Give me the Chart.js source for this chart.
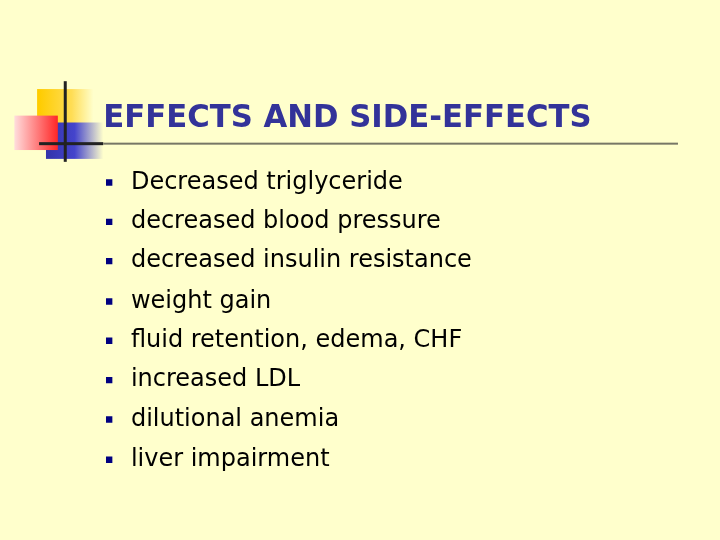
<!DOCTYPE html><html><head><script src="https://cdn.jsdelivr.net/npm/chart.js"></script>
<style>html,body{margin:0;background:#ffffcc}#w{width:720px;height:540px}</style></head><body><div id="w"><canvas id="c"></canvas></div>
<script>
const title = "EFFECTS AND SIDE-EFFECTS";
const items = ["Decreased triglyceride","decreased blood pressure","decreased insulin resistance","weight gain","fluid retention, edema, CHF","increased LDL","dilutional anemia","liver impairment"];
const rowY = [181,221,261,302,342,382,422,463];
const bulletX = [106,106,106,106,106,106,106,106];
const deco = {id:'deco',beforeDatasetsDraw(ch){
 const c=ch.ctx,xs=ch.scales.x,ys=ch.scales.y;const X=v=>xs.getPixelForValue(v),Y=v=>ys.getPixelForValue(v);
 c.save();
 let g=c.createLinearGradient(X(35),0,X(90),0);g.addColorStop(0,'#ffcc00');g.addColorStop(0.6,'#ffdd55');g.addColorStop(1,'#ffffcc');
 c.fillStyle=g;c.fillRect(X(33),Y(86),X(90)-X(33),Y(143)-Y(86));
 g=c.createLinearGradient(X(42),0,X(100),0);g.addColorStop(0,'#3333aa');g.addColorStop(0.5,'#4444cc');g.addColorStop(1,'#ffffcc');
 c.fillStyle=g;c.fillRect(X(42),Y(120),X(100)-X(42),Y(157)-Y(120));
 g=c.createLinearGradient(X(10),0,X(55),0);g.addColorStop(0,'#ffdddd');g.addColorStop(1,'#ff2222');
 c.fillStyle=g;c.fillRect(X(10),Y(113),X(54)-X(10),Y(148)-Y(113));
 c.fillStyle='#222';c.fillRect(X(60),Y(78),3,Y(160)-Y(78));c.fillRect(X(35),Y(140),X(100)-X(35),3);
 c.fillStyle='#777766';c.fillRect(X(100),Y(140.5),X(682)-X(100),2);
 c.fillStyle='#333399';c.font='bold 32px "DejaVu Sans"';c.textBaseline='middle';
 c.save();c.translate(X(100),Y(116));c.scale(0.96,1);c.fillText(title,0,0);c.restore();
 c.fillStyle='#000';c.font='24px "DejaVu Sans"';
 items.forEach((t,i)=>{c.fillText(t,X(128),Y(rowY[i]));});
 c.restore();}};
new Chart(document.getElementById('c'),{type:'scatter',
 data:{datasets:[{data:rowY.map((y,i)=>({x:bulletX[i],y})),pointStyle:'rect',pointRadius:4.5,backgroundColor:'#000080',borderColor:'#000080',borderWidth:0}]},
 options:{responsive:true,maintainAspectRatio:false,animation:false,layout:{padding:0},
  plugins:{legend:{display:false},tooltip:{enabled:false}},
  scales:{x:{type:'linear',min:0,max:720,display:false},y:{type:'linear',min:0,max:540,reverse:true,display:false}}},
 plugins:[deco]});
</script></body></html>
